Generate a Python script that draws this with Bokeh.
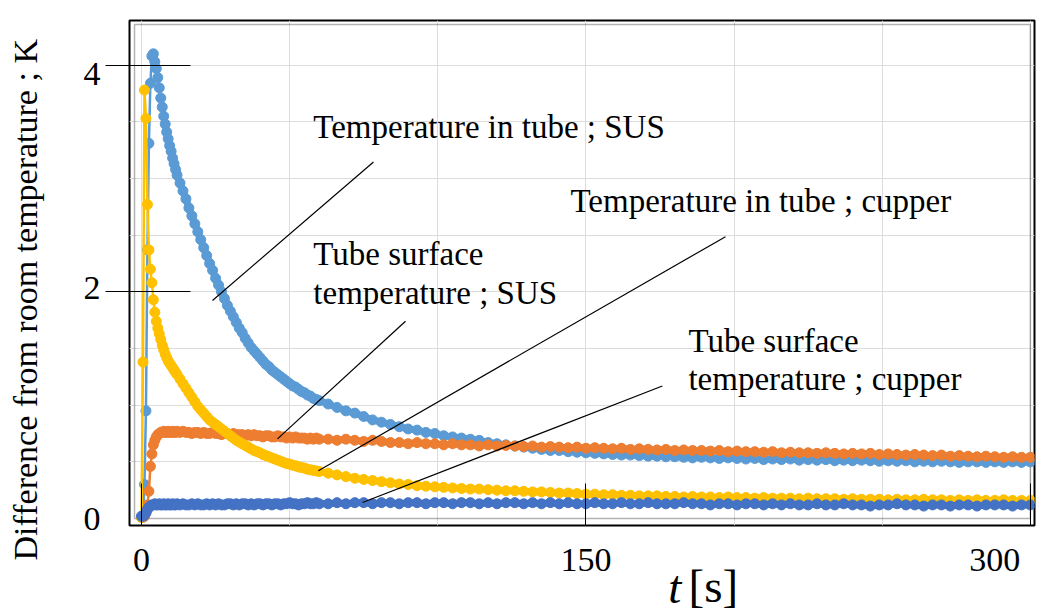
from bokeh.plotting import figure
from bokeh.models import FixedTicker, Label, BoxAnnotation, Range1d, LinearAxis
from bokeh.embed import file_html
from bokeh.resources import INLINE

# ---------------- data ----------------
T_A = [0, 0.5, 1.0, 1.5, 2.0, 2.5, 3.0, 3.5, 4.0, 4.5,
       5.0, 5.5, 6.0, 6.5, 7.0, 7.5, 8.0, 8.5, 9.0, 9.5,
       10.0, 10.5, 11.0, 11.5, 12.0]
T_B = [13, 14, 15, 16, 17, 18, 19, 20, 21, 22,
       23, 24, 25, 26, 27, 28, 29, 30, 31, 32,
       33, 34, 35, 36, 37, 38, 39, 40, 41, 42,
       43, 44, 45, 46, 47, 48, 49, 50, 51, 52,
       53, 54, 55, 56, 57, 58, 59, 60]
T_C = [63, 66, 69, 72, 75, 78, 81, 84, 87, 90,
       93, 96, 99, 102, 105, 108, 111, 114, 117, 120,
       123, 126, 129, 132, 135, 138, 141, 144, 147, 150,
       153, 156, 159, 162, 165, 168, 171, 174, 177, 180,
       183, 186, 189, 192, 195, 198, 201, 204, 207, 210,
       213, 216, 219, 222, 225, 228, 231, 234, 237, 240,
       243, 246, 249, 252, 255, 258, 261, 264, 267, 270,
       273, 276, 279, 282, 285, 288, 291, 294, 297, 300]
TIME = T_A + T_B + T_C

# Temperature in tube ; SUS
SUS_IN = [0.02, 0.02, 0.30, 0.95, 2.37, 3.31, 3.84, 4.08, 4.10, 4.03,
          3.97, 3.89, 3.80, 3.71, 3.63, 3.55, 3.48, 3.41, 3.35, 3.29,
          3.24, 3.18, 3.13, 3.08, 3.03,
          2.96, 2.89, 2.82, 2.74, 2.67, 2.60, 2.53, 2.46, 2.39, 2.32,
          2.25, 2.19, 2.12, 2.06, 2.00, 1.94, 1.88, 1.83, 1.78, 1.73,
          1.68, 1.64, 1.59, 1.55, 1.51, 1.48, 1.45, 1.42, 1.39, 1.36,
          1.34, 1.31, 1.29, 1.27, 1.25, 1.23, 1.21, 1.19, 1.17, 1.16,
          1.14, 1.12, 1.11, 1.09, 1.08, 1.06, 1.05, 1.04,
          1.01, 0.98, 0.95, 0.93, 0.90, 0.87, 0.85, 0.83, 0.81, 0.79,
          0.78, 0.76, 0.75, 0.73, 0.72, 0.71, 0.70, 0.69, 0.67, 0.66,
          0.65, 0.64, 0.63, 0.62, 0.61, 0.60, 0.60, 0.59, 0.585, 0.58,
          0.575, 0.57, 0.565, 0.56, 0.56, 0.555, 0.55, 0.55, 0.545, 0.545,
          0.54, 0.535, 0.54, 0.535, 0.53, 0.535, 0.53, 0.525, 0.53, 0.52,
          0.525, 0.52, 0.525, 0.515, 0.52, 0.515, 0.52, 0.51, 0.515, 0.51,
          0.515, 0.51, 0.505, 0.51, 0.505, 0.51, 0.50, 0.505, 0.50, 0.505,
          0.50, 0.495, 0.50, 0.50, 0.495, 0.50, 0.495, 0.50, 0.495, 0.50]

# Tube surface temperature ; SUS
SUS_SURF = [0.01, 0.01, 0.02, 0.05, 0.12, 0.24, 0.46, 0.57, 0.65, 0.69,
            0.72, 0.74, 0.75, 0.76, 0.76, 0.77, 0.76, 0.76, 0.77, 0.76,
            0.76, 0.77, 0.76, 0.76, 0.77,
            0.76, 0.77, 0.76, 0.76, 0.75, 0.76, 0.76, 0.75, 0.76, 0.75,
            0.75, 0.76, 0.75, 0.75, 0.74, 0.75, 0.75, 0.74, 0.75, 0.74,
            0.74, 0.74, 0.73, 0.74, 0.73, 0.74, 0.73, 0.73, 0.72, 0.73,
            0.73, 0.72, 0.72, 0.73, 0.72, 0.72, 0.71, 0.72, 0.71, 0.72,
            0.71, 0.71, 0.71, 0.70, 0.71, 0.70, 0.71, 0.70,
            0.70, 0.69, 0.70, 0.69, 0.68, 0.69, 0.68, 0.67, 0.67, 0.66,
            0.67, 0.66, 0.66, 0.65, 0.66, 0.65, 0.65, 0.64, 0.65, 0.64,
            0.645, 0.64, 0.635, 0.64, 0.63, 0.635, 0.63, 0.625, 0.63, 0.62,
            0.625, 0.62, 0.615, 0.62, 0.61, 0.615, 0.61, 0.605, 0.61, 0.60,
            0.605, 0.60, 0.60, 0.595, 0.60, 0.59, 0.595, 0.59, 0.59, 0.585,
            0.59, 0.58, 0.585, 0.58, 0.58, 0.575, 0.58, 0.575, 0.57, 0.575,
            0.57, 0.575, 0.565, 0.57, 0.565, 0.56, 0.565, 0.56, 0.555, 0.56,
            0.55, 0.555, 0.55, 0.545, 0.55, 0.545, 0.54, 0.545, 0.54, 0.54]

# Temperature in tube ; cupper
CU_IN = [0.01, 1.38, 3.78, 3.53, 2.77, 2.37, 2.20, 2.08, 1.93, 1.82,
         1.74, 1.68, 1.63, 1.58, 1.53, 1.49, 1.45, 1.42, 1.39, 1.37,
         1.35, 1.33, 1.31, 1.29, 1.27,
         1.23, 1.19, 1.15, 1.11, 1.07, 1.03, 0.99, 0.96, 0.93, 0.90,
         0.87, 0.85, 0.83, 0.81, 0.79, 0.77, 0.75, 0.73, 0.71, 0.69,
         0.675, 0.66, 0.645, 0.63, 0.615, 0.60, 0.59, 0.58, 0.565, 0.555,
         0.545, 0.535, 0.525, 0.515, 0.505, 0.495, 0.485, 0.48, 0.47, 0.465,
         0.455, 0.45, 0.445, 0.435, 0.43, 0.425, 0.42, 0.415,
         0.40, 0.385, 0.37, 0.355, 0.345, 0.335, 0.325, 0.315, 0.305, 0.30,
         0.29, 0.285, 0.28, 0.275, 0.27, 0.265, 0.26, 0.26, 0.255, 0.25,
         0.245, 0.245, 0.24, 0.235, 0.235, 0.23, 0.225, 0.225, 0.22, 0.215,
         0.215, 0.21, 0.21, 0.205, 0.205, 0.20, 0.20, 0.20, 0.195, 0.195,
         0.19, 0.195, 0.19, 0.19, 0.185, 0.19, 0.185, 0.185, 0.18, 0.185,
         0.18, 0.18, 0.18, 0.175, 0.18, 0.175, 0.175, 0.175, 0.17, 0.175,
         0.17, 0.17, 0.17, 0.165, 0.17, 0.165, 0.165, 0.17, 0.165, 0.165,
         0.16, 0.165, 0.16, 0.165, 0.16, 0.16, 0.165, 0.16, 0.16, 0.16]

# Tube surface temperature ; cupper
CU_SURF = [0.02, 0.02, 0.03, 0.05, 0.08, 0.10, 0.11, 0.12, 0.12, 0.13,
           0.12, 0.12, 0.13, 0.12, 0.12, 0.13, 0.12, 0.12, 0.13, 0.12,
           0.12, 0.13, 0.12, 0.12, 0.13,
           0.12, 0.13, 0.12, 0.12, 0.13, 0.12, 0.13, 0.12, 0.12, 0.13,
           0.12, 0.13, 0.12, 0.13, 0.12, 0.12, 0.13, 0.13, 0.12, 0.13,
           0.12, 0.13, 0.13, 0.12, 0.13, 0.12, 0.13, 0.13, 0.12, 0.13,
           0.13, 0.12, 0.13, 0.13, 0.12, 0.13, 0.13, 0.14, 0.13, 0.13,
           0.12, 0.13, 0.13, 0.14, 0.13, 0.13, 0.14, 0.13,
           0.13, 0.14, 0.13, 0.14, 0.14, 0.13, 0.14, 0.14, 0.13, 0.14,
           0.14, 0.13, 0.14, 0.14, 0.13, 0.14, 0.14, 0.13, 0.14, 0.13,
           0.14, 0.14, 0.13, 0.14, 0.13, 0.14, 0.13, 0.14, 0.13, 0.13,
           0.14, 0.13, 0.13, 0.14, 0.13, 0.13, 0.14, 0.13, 0.13, 0.13,
           0.14, 0.13, 0.13, 0.12, 0.13, 0.13, 0.12, 0.13, 0.13, 0.12,
           0.13, 0.12, 0.13, 0.12, 0.12, 0.13, 0.12, 0.12, 0.13, 0.12,
           0.12, 0.11, 0.12, 0.12, 0.13, 0.12, 0.12, 0.11, 0.12, 0.12,
           0.11, 0.12, 0.12, 0.11, 0.12, 0.12, 0.12, 0.11, 0.12, 0.12]

SERIES = [("Temperature in tube ; SUS", SUS_IN, "#5B9BD5"),
          ("Tube surface temperature ; SUS", SUS_SURF, "#ED7D31"),
          ("Temperature in tube ; cupper", CU_IN, "#FFC000"),
          ("Tube surface temperature ; cupper", CU_SURF, "#4472C4")]
for name, vals, _ in SERIES:
    assert len(vals) == len(TIME), (name, len(vals), len(TIME))

X_TICKS = [0, 150, 300]
X_LABELS = ["0", "150", "300"]
X_LABEL_POS = [0, 150, 288]        # where the reference prints its x tick labels
Y_TICKS = [2, 4]
Y_LABELS = ["0", "2", "4"]
Y_LABEL_POS = [0, 2.03, 3.92]      # where the reference prints its y tick labels
X_GRID = [0, 50, 100, 150, 200, 250, 300]
Y_GRID = [0.5, 1.0, 1.5, 2.0, 2.5, 3.0, 3.5, 4.0, 4.5]
Y_TITLE = "Difference from room temperature ; K"
Y_TITLE_POS = 1.93                 # vertical centre of the y title
X_TITLE_VAR = "t"
X_TITLE_UNIT = "[s]"
X_TITLE_POS = [180, 193]           # centres of "t" and "[s]"
DENSE_FROM = 16                    # samples from here on are drawn as a dense band

# callout texts (data coordinates of their left/baseline) and leader lines
ANN_TEXT = ["Temperature in tube ; SUS", "Temperature in tube ; cupper",
            "Tube surface", "temperature ; SUS",
            "Tube surface", "temperature ; cupper"]
ANN_X = [58.0, 144.8, 58.0, 58.0, 184.6, 184.6]
ANN_Y = [3.45, 2.80, 2.33, 1.99, 1.57, 1.23]
LEAD_X0 = [78.3, 89.1, 197.1, 175.8]
LEAD_Y0 = [3.146, 1.740, 2.487, 1.169]
LEAD_X1 = [23.96, 45.9, 59.7, 74.6]
LEAD_Y1 = [1.924, 0.703, 0.422, 0.141]

SERIF = "Liberation Serif"

# ---------------- figure ----------------
p = figure(width=1046, height=615,
           x_range=Range1d(-4.05, 301.4), y_range=Range1d(-0.0615, 4.394),
           output_backend="svg", toolbar_location=None,
           min_border_left=129, min_border_right=12,
           min_border_top=20, min_border_bottom=88)
p.background_fill_color = "white"
p.border_fill_color = "white"
p.outline_line_color = "black"
p.outline_line_width = 2

p.xgrid.ticker = FixedTicker(ticks=X_GRID)
p.ygrid.ticker = FixedTicker(ticks=Y_GRID)
p.grid.grid_line_color = "#DCDCDC"
p.grid.grid_line_width = 1


def hide_labels(ax):
    ax.major_label_text_color = None
    ax.major_label_text_font_size = "1px"
    ax.major_label_standoff = 0


def text_only(ax, size, standoff, style="normal"):
    ax.axis_line_color = None
    ax.major_tick_line_color = None
    ax.minor_tick_line_color = None
    ax.major_tick_in = 0
    ax.major_tick_out = 0
    ax.major_label_standoff = standoff
    ax.major_label_text_font = SERIF
    ax.major_label_text_font_size = size
    ax.major_label_text_font_style = style
    ax.major_label_text_color = "black"


# x axis: tick marks
xa = p.xaxis[0]
xa.ticker = FixedTicker(ticks=X_TICKS)
xa.axis_line_color = None
xa.major_tick_in = 42
xa.major_tick_out = 0
xa.major_tick_line_color = "black"
xa.minor_tick_line_color = None
hide_labels(xa)

# x axis: tick labels
xl = LinearAxis(ticker=FixedTicker(ticks=X_LABEL_POS),
                major_label_overrides=dict(zip(X_LABEL_POS, X_LABELS)))
text_only(xl, "34px", 23)
p.add_layout(xl, "below")

# x axis title "t [s]" (italic t, upright unit)
xu = LinearAxis(ticker=FixedTicker(ticks=[X_TITLE_POS[1]]),
                major_label_overrides={X_TITLE_POS[1]: X_TITLE_UNIT})
text_only(xu, "47px", -14)
p.add_layout(xu, "below")
xv = LinearAxis(ticker=FixedTicker(ticks=[X_TITLE_POS[0]]),
                major_label_overrides={X_TITLE_POS[0]: X_TITLE_VAR})
text_only(xv, "47px", -54, "italic")
p.add_layout(xv, "below")

# y axis: long tick marks
ya = p.yaxis[0]
ya.ticker = FixedTicker(ticks=Y_TICKS)
ya.axis_line_color = None
ya.major_tick_in = 61
ya.major_tick_out = 24
ya.major_tick_line_color = "black"
ya.minor_tick_line_color = None
hide_labels(ya)

# y axis: tick labels
yl = LinearAxis(ticker=FixedTicker(ticks=Y_LABEL_POS),
                major_label_overrides=dict(zip(Y_LABEL_POS, Y_LABELS)))
text_only(yl, "34px", 5)
p.add_layout(yl, "left")

# y axis: title
yt = LinearAxis(ticker=FixedTicker(ticks=[Y_TITLE_POS]),
                major_label_overrides={Y_TITLE_POS: Y_TITLE},
                major_label_orientation="vertical")
text_only(yt, "34px", 36)
p.add_layout(yt, "left")

# inner line of the double frame
p.add_layout(BoxAnnotation(left=-2.36, right=300, bottom=0.0, top=4.358,
                           fill_color=None, line_color="black", line_width=1.5,
                           level="underlay"))

for name, vals, color in SERIES:
    p.line(TIME, vals, line_color=color, line_width=2.5)
    p.line(TIME[DENSE_FROM:], vals[DENSE_FROM:], line_color=color, line_width=7)
    p.scatter(TIME, vals, size=10, fill_color=color, line_color=color)

p.segment(x0=LEAD_X0, y0=LEAD_Y0, x1=LEAD_X1, y1=LEAD_Y1,
          line_color="black", line_width=1.2)

for txt, x, y in zip(ANN_TEXT, ANN_X, ANN_Y):
    p.add_layout(Label(x=x, y=y, text=txt, text_font=SERIF,
                       text_font_size="33px", text_color="black",
                       text_baseline="alphabetic", text_align="left"))

open("out.html", "w").write(file_html(p, INLINE))
